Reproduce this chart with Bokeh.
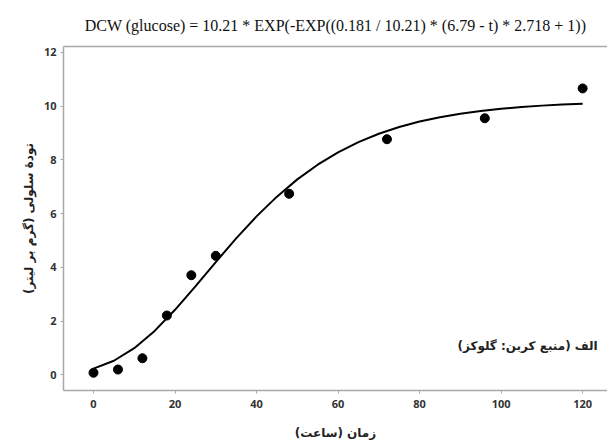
from bokeh.plotting import figure
from bokeh.models import Label, LinearAxis, FixedTicker, Range1d
from bokeh.embed import file_html
from bokeh.resources import INLINE

# Observed data (time in hours, dry cell weight g/L)
time_h = [0, 6, 12, 18, 24, 30, 48, 72, 96, 120]
dcw = [0.08, 0.2, 0.62, 2.21, 3.71, 4.43, 6.74, 8.77, 9.55, 10.66]

# Fitted curve
curve_t = [0, 5, 10, 15, 20, 25, 30, 35, 40, 45, 50, 55, 60, 65, 70, 75, 80,
           85, 90, 95, 100, 105, 110, 115, 120]
curve_y = [0.235, 0.527, 0.994, 1.637, 2.423, 3.297, 4.199, 5.079, 5.898, 6.633,
           7.276, 7.822, 8.282, 8.661, 8.972, 9.224, 9.426, 9.589, 9.719, 9.822,
           9.904, 9.968, 10.020, 10.060, 10.092]

x_ticks = [0, 20, 40, 60, 80, 100, 120]
y_ticks = [0, 2, 4, 6, 8, 10, 12]

title_text = "DCW (glucose) = 10.21 * EXP(-EXP((0.181 / 10.21) * (6.79 - t) * 2.718 + 1))"
x_label = "زمان (ساعت)"
y_label = "تودهٔ سلولی (گرم بر لیتر)"
note_text = "الف (منبع کربن: گلوکز)"

AXIS_COL = "#a8a8a8"
TXT_COL = "#222222"

p = figure(frame_width=544, frame_height=344,
           x_range=Range1d(-7.36, 126.1), y_range=Range1d(-0.58, 12.22),
           output_backend="svg", toolbar_location=None,
           min_border_left=63, min_border_top=46, min_border_bottom=56,
           min_border_right=0)

p.title.text = title_text
p.title.align = "center"
p.title.text_font = "Liberation Serif"
p.title.text_font_style = "normal"
p.title.text_font_size = "16px"
p.title.text_color = "#111111"
p.title.standoff = 26

p.outline_line_color = None
p.xgrid.visible = False
p.ygrid.visible = False

for ax in (p.xaxis[0], p.yaxis[0]):
    ax.axis_line_color = AXIS_COL
    ax.axis_line_width = 1.5
    ax.major_tick_line_color = AXIS_COL
    ax.major_tick_in = 0
    ax.major_tick_out = 3
    ax.minor_tick_line_color = None
    ax.major_label_text_font = "Open Sans"
    ax.major_label_text_font_style = "bold"
    ax.major_label_text_font_size = "11px"
    ax.major_label_text_color = "#333333"
    ax.axis_label_text_font = "DejaVu Sans"
    ax.axis_label_text_font_style = "bold"
    ax.axis_label_text_font_size = "12px"
    ax.axis_label_text_color = TXT_COL

p.xaxis[0].ticker = FixedTicker(ticks=x_ticks)
p.yaxis[0].ticker = FixedTicker(ticks=y_ticks)
p.xaxis[0].major_label_standoff = 6
p.yaxis[0].major_label_standoff = 4
p.xaxis[0].axis_label = x_label
p.yaxis[0].axis_label = y_label
p.xaxis[0].axis_label_standoff = 15
p.yaxis[0].axis_label_standoff = 5

# top border line
top = LinearAxis(ticker=FixedTicker(ticks=[]), major_label_text_font_size="0px",
                 axis_line_color=AXIS_COL, axis_line_width=1.5,
                 major_tick_line_color=None, minor_tick_line_color=None)
p.add_layout(top, "above")

p.line(curve_t, curve_y, line_color="black", line_width=2)
p.scatter(time_h, dcw, size=9, fill_color="black", line_color="black")

note = Label(x=123.7, y=1.09, text=note_text, text_align="right",
             text_baseline="middle", text_font="DejaVu Sans",
             text_font_style="bold", text_font_size="12px", text_color=TXT_COL)
p.add_layout(note)

open("out.html", "w").write(file_html(p, INLINE))
